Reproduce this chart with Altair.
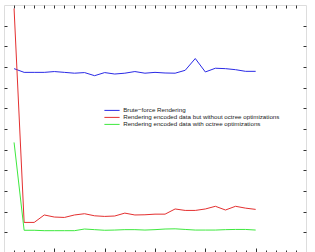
import altair as alt
import pandas as pd

x_vals = list(range(1, 26))
names = [
    "Brute\u2212force Rendering",
    "Rendering encoded data but without octree optimizations",
    "Rendering encoded data with octree optimizations",
]
colors = ["#2a2ae6", "#e43030", "#3ee83e"]

brute = [8.92, 8.74, 8.74, 8.74, 8.78, 8.74, 8.70, 8.73, 8.58, 8.73, 8.66, 8.70, 8.78,
         8.70, 8.74, 8.71, 8.70, 8.84, 9.41, 8.76, 8.94, 8.92, 8.87, 8.79, 8.79]
no_octree = [11.83, 1.48, 1.48, 1.84, 1.74, 1.72, 1.84, 1.90, 1.80, 1.77, 1.79, 1.93, 1.84,
             1.85, 1.88, 1.88, 2.13, 2.06, 2.06, 2.13, 2.26, 2.08, 2.26, 2.17, 2.11]
octree = [5.35, 1.10, 1.10, 1.08, 1.08, 1.08, 1.08, 1.16, 1.13, 1.10, 1.11, 1.13, 1.13,
          1.11, 1.13, 1.16, 1.17, 1.14, 1.11, 1.11, 1.11, 1.13, 1.14, 1.14, 1.11]

x_minor = [i for i in range(1, 30) if i % 5 != 0]
x_major = [5, 10, 15, 20, 25]
y_ticks = list(range(1, 12))

rows = []
for name, series in zip(names, [brute, no_octree, octree]):
    for xv, yv in zip(x_vals, series):
        rows.append({"x": xv, "v": yv, "series": name})
df = pd.DataFrame(rows)

xs = alt.Scale(domain=[0, 30], nice=False, zero=False)
ys = alt.Scale(domain=[0, 12], nice=False, zero=False)


def tick_axis(orient, values, size):
    return alt.Axis(orient=orient, values=values, labels=False, domain=False, grid=False,
                    ticks=True, tickSize=size, offset=-size, tickColor="#333333",
                    tickWidth=1, title=None)


base = alt.Chart(df)

lines = base.mark_line(strokeWidth=1).encode(
    x=alt.X("x:Q", scale=xs, axis=tick_axis("bottom", x_minor, 3)),
    y=alt.Y("v:Q", scale=ys, axis=tick_axis("left", y_ticks, 3)),
    color=alt.Color(
        "series:N",
        scale=alt.Scale(domain=names, range=colors),
        legend=alt.Legend(
            orient="none", legendX=104.9, legendY=102.3, title=None,
            symbolType="M-3.8,0L3.8,0", symbolSize=16, symbolStrokeWidth=1,
            labelFontSize=6.2, labelFont="Liberation Sans", labelColor="#222222",
            rowPadding=0, padding=0, labelOffset=8.1, labelLimit=400, symbolOffset=0,
        ),
    ),
)

top_right = base.mark_point(opacity=0).encode(
    x=alt.X("x:Q", scale=xs, axis=tick_axis("top", x_minor + x_major, 3)),
    y=alt.Y("v:Q", scale=ys, axis=tick_axis("right", y_ticks, 3)),
)

major = base.mark_point(opacity=0).encode(
    x=alt.X("x:Q", scale=xs, axis=tick_axis("bottom", x_major, 5)),
    y=alt.Y("v:Q", scale=ys, axis=None),
)

chart = alt.layer(lines, top_right, major).resolve_axis(
    x="independent", y="independent"
).properties(
    width=302, height=248,
    autosize=alt.AutoSizeParams(type="none"),
    padding={"left": 4, "top": 5, "right": 9, "bottom": 0},
    background="white",
).configure_view(stroke="#333333", strokeWidth=1).configure(font="Liberation Sans")

chart.save("out.html", embed_options={"renderer": "svg", "actions": False})
